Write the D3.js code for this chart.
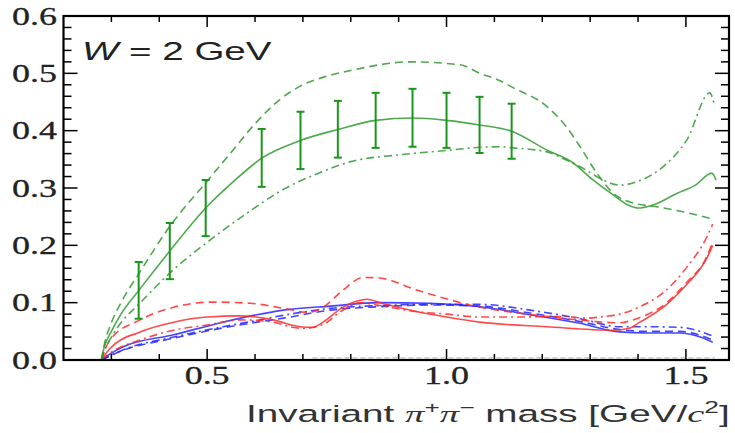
<!DOCTYPE html>
<html>
<head>
<meta charset="utf-8">
<script src="https://cdn.jsdelivr.net/npm/d3@7"></script>
<style>
  body { margin: 0; background: #fff; }
  svg { display: block; }
</style>
</head>
<body>
<svg width="735" height="433"></svg>
<script>
// mass points [GeV/c^2] and cross-section values
var greenSolid = [[0.279,0],[0.285,0.022],[0.3,0.05],[0.32,0.08],[0.357,0.121],[0.422,0.19],[0.497,0.265],[0.56,0.315],[0.614,0.352],[0.695,0.383],[0.773,0.402],[0.852,0.418],[0.929,0.422],[1.0,0.418],[1.069,0.41],[1.136,0.399],[1.21,0.366],[1.264,0.344],[1.306,0.314],[1.348,0.288],[1.38,0.27],[1.4,0.265],[1.43,0.27],[1.48,0.29],[1.52,0.305],[1.554,0.326],[1.563,0.314]];
var greenDashed = [[0.279,0],[0.285,0.026],[0.3,0.065],[0.32,0.1],[0.357,0.15],[0.422,0.233],[0.5,0.312],[0.55,0.362],[0.6,0.412],[0.65,0.453],[0.7,0.48],[0.75,0.495],[0.8,0.505],[0.924,0.52],[1.028,0.515],[1.07,0.5],[1.112,0.487],[1.139,0.475],[1.21,0.442],[1.25,0.407],[1.279,0.372],[1.314,0.326],[1.348,0.291],[1.389,0.274],[1.442,0.267],[1.502,0.257],[1.556,0.246]];
var greenDashDot = [[0.279,0],[0.285,0.015],[0.3,0.04],[0.32,0.065],[0.357,0.097],[0.429,0.157],[0.506,0.209],[0.583,0.256],[0.66,0.298],[0.73,0.325],[0.8,0.346],[0.903,0.358],[1.007,0.366],[1.07,0.371],[1.112,0.372],[1.139,0.37],[1.21,0.363],[1.25,0.349],[1.29,0.332],[1.327,0.314],[1.362,0.305],[1.398,0.311],[1.452,0.337],[1.502,0.384],[1.55,0.466],[1.56,0.442]];

var redSolid = [[0.279,0],[0.297,0.02],[0.36,0.049],[0.43,0.066],[0.5,0.075],[0.569,0.077],[0.638,0.07],[0.694,0.058],[0.72,0.057],[0.742,0.066],[0.78,0.09],[0.813,0.103],[0.834,0.106],[0.861,0.1],[0.93,0.086],[1.0,0.075],[1.07,0.066],[1.21,0.058],[1.348,0.052],[1.38,0.055],[1.404,0.066],[1.46,0.097],[1.502,0.132],[1.544,0.178],[1.556,0.2]];
var redDashed = [[0.279,0],[0.297,0.035],[0.36,0.07],[0.43,0.092],[0.51,0.101],[0.59,0.099],[0.66,0.09],[0.71,0.083],[0.742,0.092],[0.784,0.122],[0.826,0.144],[0.86,0.143],[0.938,0.122],[1.007,0.105],[1.076,0.091],[1.15,0.082],[1.25,0.072],[1.3,0.068],[1.36,0.065],[1.4,0.073],[1.46,0.1],[1.5,0.134],[1.544,0.181],[1.556,0.206]];
var redDashDot = [[0.279,0],[0.297,0.012],[0.36,0.035],[0.43,0.052],[0.5,0.061],[0.569,0.07],[0.638,0.066],[0.673,0.058],[0.7,0.055],[0.742,0.062],[0.78,0.085],[0.82,0.1],[0.861,0.095],[0.93,0.085],[1.0,0.08],[1.07,0.075],[1.15,0.075],[1.243,0.076],[1.293,0.073],[1.33,0.076],[1.362,0.08],[1.404,0.093],[1.452,0.117],[1.502,0.162],[1.544,0.215],[1.556,0.237]];

var blueSolid = [[0.279,0],[0.3,0.012],[0.325,0.023],[0.43,0.044],[0.533,0.066],[0.604,0.079],[0.66,0.087],[0.757,0.094],[0.861,0.1],[0.965,0.099],[1.07,0.093],[1.174,0.079],[1.279,0.064],[1.362,0.049],[1.418,0.047],[1.487,0.047],[1.53,0.04],[1.556,0.031]];
var blueDashed = [[0.279,0],[0.325,0.017],[0.43,0.038],[0.533,0.056],[0.604,0.066],[0.66,0.073],[0.757,0.087],[0.861,0.093],[0.965,0.096],[1.07,0.094],[1.174,0.082],[1.279,0.067],[1.362,0.053],[1.418,0.05],[1.487,0.05],[1.556,0.035]];
var blueDashDot = [[0.279,0],[0.325,0.018],[0.43,0.04],[0.533,0.058],[0.604,0.069],[0.66,0.078],[0.757,0.09],[0.861,0.095],[0.965,0.097],[1.07,0.097],[1.174,0.087],[1.279,0.072],[1.362,0.058],[1.418,0.058],[1.487,0.057],[1.556,0.042]];

var greyNearZero = [[0.72,0.004],[1.0,0.004],[1.3,0.004],[1.56,0.004]];

// data points with error bars
var errX  = [0.357,0.422,0.497,0.614,0.695,0.773,0.852,0.929,1.0,1.069,1.136];
var errHi = [0.171,0.239,0.314,0.403,0.433,0.452,0.466,0.473,0.466,0.459,0.447];
var errLo = [0.072,0.141,0.216,0.302,0.333,0.353,0.370,0.372,0.370,0.361,0.351];

var xTicks = [0.5, 1.0, 1.5];
var yTicks = [0.0, 0.1, 0.2, 0.3, 0.4, 0.5, 0.6];

var svg = d3.select("svg");
var margin = {left: 63.5, right: 729, top: 16, bottom: 360};

var x = d3.scaleLinear().domain([0.2, 1.59]).range([margin.left, margin.right]);
var y = d3.scaleLinear().domain([0, 0.6]).range([margin.bottom, margin.top]);

var green = "#2f9a2f", red = "#ff2a2a", blue = "#2424ff";
var dashed = "8,5", dashDot = "8,4,2,4";

var line = d3.line()
  .x(function(d) { return x(d[0]); })
  .y(function(d) { return y(d[1]); })
  .curve(d3.curveMonotoneX);

var curves = [
  {data: greyNearZero, color: "#c4c4c4", dash: "5,3"},
  {data: blueSolid, color: blue, dash: null},
  {data: blueDashed, color: blue, dash: dashed},
  {data: blueDashDot, color: blue, dash: dashDot},
  {data: redSolid, color: red, dash: null},
  {data: redDashed, color: red, dash: dashed},
  {data: redDashDot, color: red, dash: dashDot},
  {data: greenSolid, color: green, dash: null},
  {data: greenDashed, color: green, dash: dashed},
  {data: greenDashDot, color: green, dash: dashDot}
];

svg.append("g").selectAll("path")
  .data(curves)
  .enter().append("path")
  .attr("d", function(c) { return line(c.data); })
  .attr("fill", "none")
  .attr("stroke", function(c) { return c.color; })
  .attr("stroke-width", 1.6)
  .attr("stroke-opacity", 0.85)
  .attr("stroke-dasharray", function(c) { return c.dash; });

// error bars
var bars = svg.append("g").attr("stroke", "#1a961a").attr("stroke-width", 2);
errX.forEach(function(v, i) {
  var cx = x(v);
  bars.append("line").attr("x1", cx).attr("x2", cx).attr("y1", y(errLo[i])).attr("y2", y(errHi[i]));
  bars.append("line").attr("x1", cx - 4).attr("x2", cx + 4).attr("y1", y(errLo[i])).attr("y2", y(errLo[i]));
  bars.append("line").attr("x1", cx - 4).attr("x2", cx + 4).attr("y1", y(errHi[i])).attr("y2", y(errHi[i]));
});

// ticks on all four sides, pointing inward
var frame = svg.append("g").attr("stroke", "#000");
var xMinor = d3.range(0.3, 1.59, 0.1);
xMinor.forEach(function(v) {
  var major = Math.abs(v * 2 - Math.round(v * 2)) < 1e-6;
  var len = major ? 11 : 6;
  frame.append("line").attr("x1", x(v)).attr("x2", x(v)).attr("y1", margin.bottom).attr("y2", margin.bottom - len).attr("stroke-width", 1.5);
  frame.append("line").attr("x1", x(v)).attr("x2", x(v)).attr("y1", margin.top).attr("y2", margin.top + len).attr("stroke-width", 1.5);
});
var yMinor = d3.range(0.02, 0.6, 0.02);
yMinor.forEach(function(v) {
  var major = Math.abs(v * 10 - Math.round(v * 10)) < 1e-6;
  var len = major ? 14 : 8;
  frame.append("line").attr("x1", margin.left).attr("x2", margin.left + len).attr("y1", y(v)).attr("y2", y(v)).attr("stroke-width", 1.5);
  frame.append("line").attr("x1", margin.right).attr("x2", margin.right - len).attr("y1", y(v)).attr("y2", y(v)).attr("stroke-width", 1.5);
});
frame.append("rect")
  .attr("x", margin.left).attr("y", margin.top)
  .attr("width", margin.right - margin.left).attr("height", margin.bottom - margin.top)
  .attr("fill", "none").attr("stroke-width", 2.2);

// squeeze/stretch a text element to a given width (figure is stretched horizontally)
function fitWidth(sel, w, anchorX, baseY, align) {
  var bw = sel.node().getBBox().width;
  var s = w / bw;
  var x0 = align === "end" ? anchorX - w : align === "middle" ? anchorX - w / 2 : anchorX;
  sel.attr("x", 0).attr("y", 0)
    .attr("transform", "translate(" + x0 + "," + baseY + ") scale(" + s + ",1)");
}

yTicks.forEach(function(v) {
  var t = svg.append("text")
    .style("font-family", "'Liberation Serif', serif")
    .style("font-size", "26px")
    .attr("fill", "#222")
    .attr("stroke", "#222").attr("stroke-width", 0.3)
    .text(v.toFixed(1));
  fitWidth(t, 45, 57, y(v) + 8.5, "end");
});
xTicks.forEach(function(v) {
  var t = svg.append("text")
    .style("font-family", "'Liberation Serif', serif")
    .style("font-size", "26px")
    .attr("fill", "#222")
    .attr("stroke", "#222").attr("stroke-width", 0.3)
    .text(v.toFixed(1));
  fitWidth(t, 45, x(v), 384, "middle");
});

// energy label
var wl = svg.append("text")
  .style("font-family", "'Liberation Sans', sans-serif")
  .style("font-size", "25px")
  .attr("fill", "#222");
wl.append("tspan").style("font-style", "italic").text("W");
wl.append("tspan").text(" = 2 GeV");
fitWidth(wl, 190, 82, 60, "start");

// x axis title
var xl = svg.append("text")
  .style("font-family", "'Liberation Sans', sans-serif")
  .style("font-size", "23.5px")
  .attr("fill", "#333");
xl.append("tspan").text("Invariant ");
xl.append("tspan").style("font-family", "'Liberation Serif', serif").style("font-style", "italic").text("π");
xl.append("tspan").attr("dy", -9).style("font-size", "16px").text("+");
xl.append("tspan").attr("dy", 9).style("font-family", "'Liberation Serif', serif").style("font-style", "italic").text("π");
xl.append("tspan").attr("dy", -9).style("font-size", "16px").text("−");
xl.append("tspan").attr("dy", 9).text(" mass [GeV/");
xl.append("tspan").style("font-family", "'Liberation Serif', serif").style("font-style", "italic").text("c");
xl.append("tspan").attr("dy", -9).style("font-size", "16px").text("2");
xl.append("tspan").attr("dy", 9).text("]");
fitWidth(xl, 484, 246, 422, "start");
</script>
</body>
</html>
